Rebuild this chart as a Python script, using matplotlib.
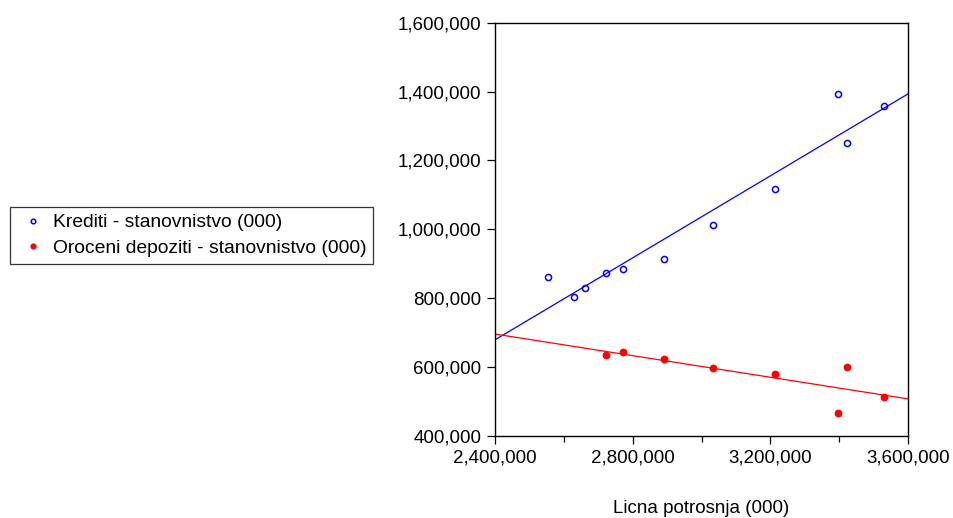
import numpy as np
import matplotlib
matplotlib.use("Agg")
import matplotlib.pyplot as plt
from matplotlib.ticker import FuncFormatter, MultipleLocator

plt.rcParams['font.family'] = ['Liberation Sans', 'DejaVu Sans']

# licna potrosnja (000) - x osa
potrosnja = [2554800, 2630300, 2661300, 2721400, 2772500, 2889800,
             3032100, 3213000, 3396800, 3422100, 3530400]
krediti = [860700, 802700, 829700, 873200, 885700, 913000,
           1011700, 1117100, 1393800, 1249800, 1357300]

# oroceni depoziti postoje samo od cetvrtog perioda
potrosnja_dep = potrosnja[3:]
depoziti = [635100, 644700, 622600, 596500, 580000, 467600, 601200, 514100]

lbl_kred = 'Krediti - stanovnistvo (000)'
lbl_dep = 'Oroceni depoziti - stanovnistvo (000)'
x_label = 'Licna potrosnja (000)'

fig = plt.figure(figsize=(9.54, 5.18), dpi=100)
ax = fig.add_axes([0.5189, 0.1583, 0.4329, 0.7979])

ax.plot(potrosnja, krediti, 'o', mfc='none', mec='blue', mew=1.1,
        ms=4.4, label=lbl_kred, linestyle='none')
ax.plot(potrosnja_dep, depoziti, 'o', color='red', ms=4.6,
        label=lbl_dep, linestyle='none')

# linije regresije preko cijelog opsega x ose
xx = np.array([2400000, 3600000])
k1 = np.polyfit(potrosnja, krediti, 1)
k2 = np.polyfit(potrosnja_dep, depoziti, 1)
ax.plot(xx, np.polyval(k1, xx), color='blue', lw=0.9)
ax.plot(xx, np.polyval(k2, xx), color='red', lw=0.9)

ax.set_xlim(2400000, 3600000)
ax.set_ylim(400000, 1600000)
ax.xaxis.set_major_locator(MultipleLocator(400000))
ax.xaxis.set_minor_locator(MultipleLocator(200000))
ax.yaxis.set_major_locator(MultipleLocator(200000))
fmt = FuncFormatter(lambda v, p: '{:,.0f}'.format(v))
ax.xaxis.set_major_formatter(fmt)
ax.yaxis.set_major_formatter(fmt)

ax.tick_params(axis='both', which='major', direction='out', length=6,
               width=0.9, labelsize=13.5)
ax.tick_params(axis='y', which='major', pad=4)
ax.tick_params(axis='x', which='major', pad=4)
ax.tick_params(axis='x', which='minor', direction='out', length=4, width=0.9)
for s in ax.spines.values():
    s.set_linewidth(1.0)

ax.set_xlabel(x_label, fontsize=13.5, labelpad=24)

leg = fig.legend(loc='upper left', bbox_to_anchor=(10.5 / 954, 1 - 207 / 518),
                 borderaxespad=0, fontsize=13.9, frameon=True, fancybox=False,
                 markerscale=0.75, handlelength=1.6, handletextpad=0.25,
                 borderpad=0.35, labelspacing=0.42)
leg.get_frame().set_edgecolor('black')
leg.get_frame().set_linewidth(0.9)

fig.savefig('out.png', dpi=100)
